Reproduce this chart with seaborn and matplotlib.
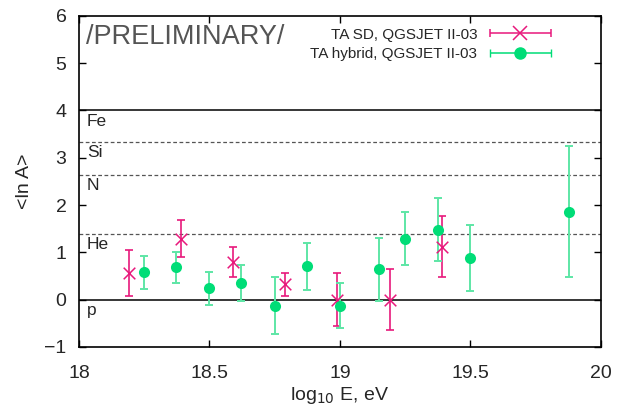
import numpy as np
import pandas as pd
import matplotlib
matplotlib.use("Agg")
import matplotlib.pyplot as plt
from matplotlib.legend_handler import HandlerErrorbar
import seaborn as sns

# TA SD, QGSJET II-03
sd_logE = [18.19, 18.39, 18.59, 18.79, 18.99, 19.19, 19.39]
sd_lnA = [0.56, 1.29, 0.80, 0.32, 0.00, 0.00, 1.12]
sd_err = [0.48, 0.40, 0.32, 0.24, 0.56, 0.64, 0.64]

# TA hybrid, QGSJET II-03
hy_logE = [18.25, 18.37, 18.50, 18.62, 18.75, 18.875, 19.00, 19.15, 19.25, 19.375, 19.50, 19.876]
hy_lnA = [0.58, 0.68, 0.24, 0.35, -0.13, 0.70, -0.13, 0.64, 1.29, 1.48, 0.88, 1.86]
hy_err = [0.35, 0.32, 0.35, 0.38, 0.60, 0.50, 0.48, 0.67, 0.56, 0.66, 0.70, 1.38]

# Nucleos de referencia
nuc_names = ['p', 'He', 'N', 'Si', 'Fe']
nuc_lnA = [0.0, np.log(4), np.log(14), np.log(28), 4.0]

pink = '#e8197c'
green = '#00dd77'
green_bar = '#5ee6a6'

sns.set_style('ticks')
plt.rcParams['font.family'] = ['Liberation Sans', 'DejaVu Sans']

df_sd = pd.DataFrame({'logE': sd_logE, 'lnA': sd_lnA, 'err': sd_err})
df_hy = pd.DataFrame({'logE': hy_logE, 'lnA': hy_lnA, 'err': hy_err})

fig = plt.figure(figsize=(6.17, 4.09), dpi=100)
ax = fig.add_axes([0.128, 0.152, 0.846, 0.809])

# Lineas de composicion
for name, val in zip(nuc_names, nuc_lnA):
    if name in ('p', 'Fe'):
        ax.axhline(val, color='black', lw=1.1, zorder=1)
    else:
        ax.axhline(val, color='#555555', lw=0.9, ls=(0, (3, 2)), zorder=1)
    ax.text(18.03, val - 0.23, name, fontsize=12.5, ha='left', va='center')

# Barras de error
ax.errorbar(df_sd['logE'], df_sd['lnA'], yerr=df_sd['err'], fmt='none',
            ecolor=pink, elinewidth=1.2, capsize=3, capthick=1.2, zorder=2)
ax.errorbar(df_hy['logE'], df_hy['lnA'], yerr=df_hy['err'], fmt='none',
            ecolor=green_bar, elinewidth=1.4, capsize=3, capthick=1.4, zorder=2)

sns.scatterplot(data=df_sd, x='logE', y='lnA', marker='x', s=70, color=pink,
                linewidth=1.1, ax=ax, zorder=3)
sns.scatterplot(data=df_hy, x='logE', y='lnA', marker='o', s=64, color=green,
                edgecolor=green, linewidth=0, ax=ax, zorder=3)

# Entradas de leyenda estilo gnuplot
h1 = ax.errorbar([np.nan], [np.nan], xerr=[1], fmt='x', color=pink, ms=10,
                 mew=1.1, elinewidth=1.1, capsize=3, label='TA SD, QGSJET II-03')
h2 = ax.errorbar([np.nan], [np.nan], xerr=[1], fmt='o', color=green, ms=8,
                 ecolor=green, elinewidth=1.1, capsize=3,
                 label='TA hybrid, QGSJET II-03')
ax.legend(handles=[h1, h2], loc='upper right', frameon=False, markerfirst=False,
          fontsize=11, handlelength=4.4, borderaxespad=0.3, labelspacing=0.35,
          handletextpad=0.6, bbox_to_anchor=(0.93, 0.997),
          handler_map={h1: HandlerErrorbar(xerr_size=2.0),
                       h2: HandlerErrorbar(xerr_size=2.0)})

ax.text(18.025, 5.82, '/PRELIMINARY/', fontsize=19.5, color='#555555',
        ha='left', va='top')

ax.set_xlim(18, 20)
ax.set_ylim(-1, 6)
ax.set_xticks([18, 18.5, 19, 19.5, 20])
ax.set_xticklabels(['18', '18.5', '19', '19.5', '20'])
ax.set_yticks(range(-1, 7))
ax.tick_params(direction='in', top=True, right=True, length=5, width=1,
               labelsize=14, pad=9, color='black')
ax.tick_params(axis='x', pad=13)
for s in ax.spines.values():
    s.set_linewidth(1.2)
    s.set_color('black')
    s.set_visible(True)

ax.set_xlabel('log$_{10}$ E, eV', fontsize=14, labelpad=2)
ax.set_ylabel('<ln A>', fontsize=14, labelpad=8)

plt.savefig('out.png', dpi=100)
